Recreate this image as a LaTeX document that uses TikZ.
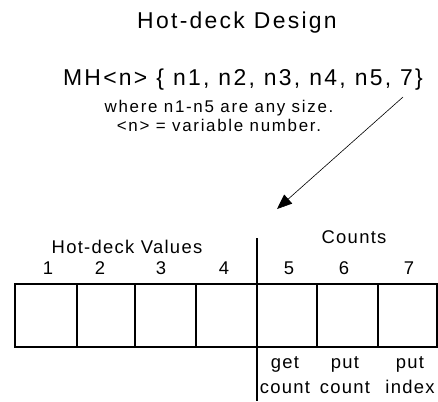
\documentclass[tikz,border=0pt]{standalone}
\usepackage{fontspec}
\setmainfont{Liberation Sans}
\usetikzlibrary{arrows.meta}
\newcommand\bigfont{\fontsize{23}{27}\selectfont\addfontfeatures{LetterSpace=10}\spaceskip=9bp\relax}

\begin{document}
\begin{tikzpicture}[x=1bp, y=-1bp,
        every node/.style={inner sep=0pt, anchor=base},
        big/.style={font=\bigfont},
        small/.style={font=\fontsize{17}{20}\selectfont\addfontfeatures{LetterSpace=10}},
        lbl/.style={font=\fontsize{18.5}{25}\selectfont\addfontfeatures{LetterSpace=7}, align=center},
        cell/.style={line width=1.5bp}]
    \useasboundingbox (0,0) rectangle (438,401);
        \node [big] (0) at (237, 28) {Hot-deck Design};
        \node [big] (1) at (243, 85) {MH<n> \{ n1, n2, n3, n4, n5, 7\}};
        \node [small] (2) at (219, 112) {where n1-n5 are any size.};
        \node [small] (3) at (219, 131) {<n> = variable number.};
        \node [lbl] (4) at (127, 253) {Hot-deck Values};
        \node [lbl] (5) at (354, 243) {Counts};
        \foreach \x/\n in {48/1, 100/2, 161/3, 224/4, 289/5, 344/6, 409/7}
            \node [lbl] (n\n) at (\x, 274) {\n};
        \node [lbl] (6) at (285, 393) {get\\count};
        \node [lbl] (7) at (345, 393) {put\\count};
        \node [lbl] (8) at (410, 393) {put\\index};
        \coordinate (a) at (403, 97);
        \coordinate (b) at (277, 209);
        % cells
        \draw [cell] (15, 284) rectangle (437, 347);
        \foreach \x in {77, 135, 196, 317, 378}
            \draw [cell] (\x, 284) -- (\x, 347);
        \draw [line width=1.2bp] (257, 238) -- (257, 401);
        \draw [line width=0.6bp, -{Triangle[length=15bp, width=12bp]}] (a) to (b);
\end{tikzpicture}
\end{document}
